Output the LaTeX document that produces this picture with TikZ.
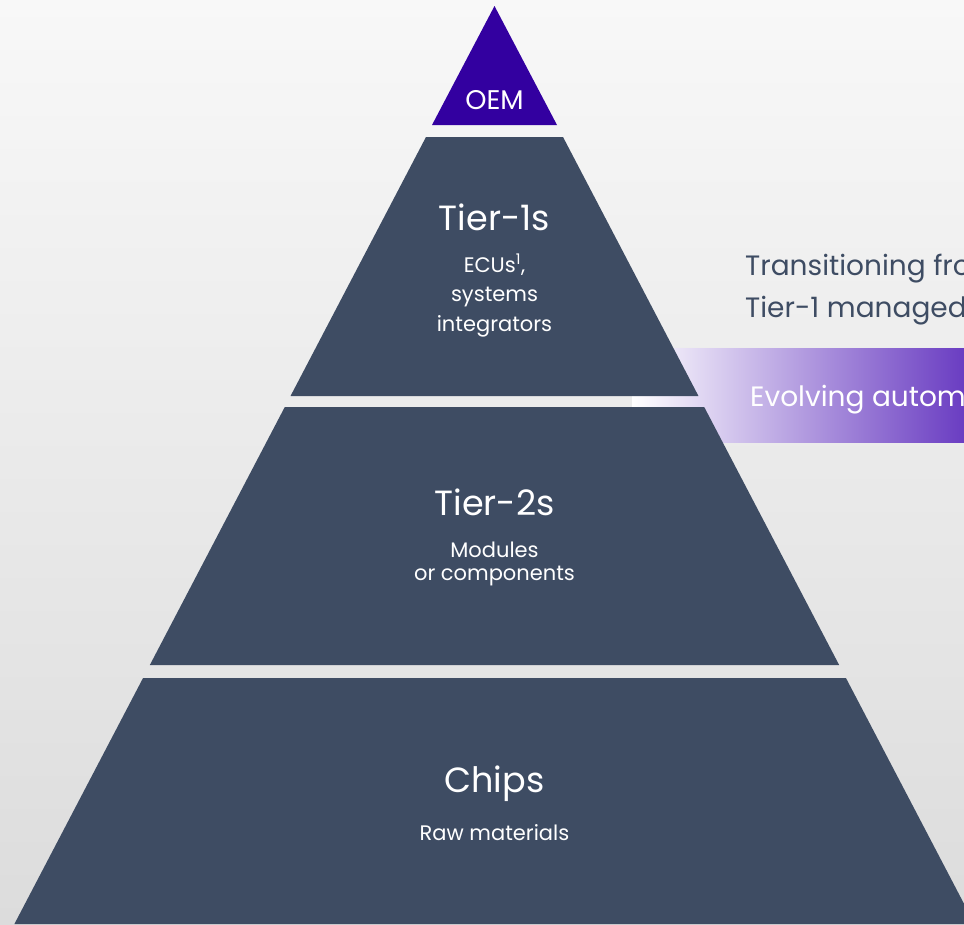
\documentclass[tikz,border=0pt]{standalone}
\usepackage{fontspec}
\setmainfont{Poppins}
\definecolor{slate}{HTML}{3E4C63}
\definecolor{oemblue}{HTML}{3300A0}
\definecolor{bandpurple}{HTML}{6A3DC2}
\definecolor{bgtop}{HTML}{F8F8F8}
\definecolor{bgbottom}{HTML}{DCDCDC}
\tikzset{
  tiername/.style={text=white,inner sep=0pt,anchor=base,font=\fontsize{35}{35}\selectfont},
  tiernote/.style={text=white,inner sep=0pt,anchor=base,font=\fontsize{21}{29}\selectfont},
  sidetext/.style={inner sep=0pt,anchor=base west,font=\fontsize{28}{28}\selectfont}
}
\begin{document}
\begin{tikzpicture}[x=1pt,y=-1pt]
            \useasboundingbox (0,0) rectangle (964,924);
            \clip (0,0) rectangle (964,924);
            \shade[top color=bgtop,bottom color=bgbottom] (0,0) rectangle (964,924);
            \shade[left color=white,right color=bandpurple] (632,348) rectangle (964,442);
            \coordinate (apex) at (494.5,6);
            \fill[oemblue] (apex)--(432,125)--(557,125)--cycle;
            \foreach \t/\b in {137/396,407/665,678/924} {
            \fill[slate] ({494.5-0.523*(\t-6)},\t)--({494.5+0.523*(\t-6)},\t)--({494.5+0.523*(\b-6)},\b)--({494.5-0.523*(\b-6)},\b)--cycle;
            }
            \node[tiername,font=\fontsize{27}{27}\selectfont] (oem) at (494.5,109) {OEM};
            \node[tiername] (tier1) at (494.5,230) {Tier-1s};
            \node[tiernote] (tier1a) at (494.5,272) {ECUs\textsuperscript{1},};
            \node[tiernote] (tier1b) at (494.5,301) {systems};
            \node[tiernote] (tier1c) at (494.5,331) {integrators};
            \node[tiername] (tier2) at (494.5,515) {Tier-2s};
            \node[tiernote] (tier2a) at (494.5,557) {Modules};
            \node[tiernote] (tier2b) at (494.5,580) {or components};
            \node[tiername] (chips) at (494.5,792) {Chips};
            \node[tiernote] (chipsa) at (494.5,840) {Raw materials};
            \node[sidetext,text=slate] (shift1) at (745,275) {Transitioning fro};
            \node[sidetext,text=slate] (shift2) at (745,317) {Tier-1 managed};
            \node[sidetext,text=white] (band) at (750,406) {Evolving autom};
        \end{tikzpicture}
\end{document}
